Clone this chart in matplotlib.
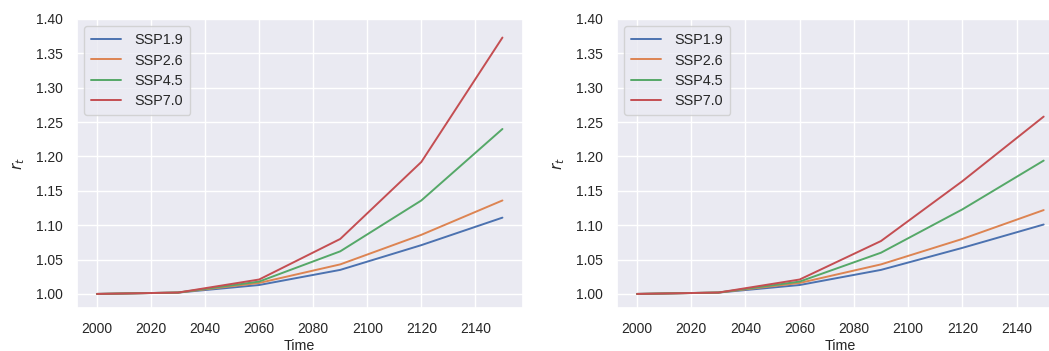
import matplotlib
matplotlib.use("Agg")
import matplotlib.pyplot as plt
import seaborn as sns

# Projected r_t under each SSP scenario, two model variants
years = [2000, 2030, 2060, 2090, 2120, 2150]
scenarios = ["SSP1.9", "SSP2.6", "SSP4.5", "SSP7.0"]

left_ssp19 = [1.000, 1.002, 1.013, 1.035, 1.071, 1.111]
left_ssp26 = [1.000, 1.002, 1.016, 1.043, 1.086, 1.136]
left_ssp45 = [1.000, 1.002, 1.018, 1.062, 1.136, 1.240]
left_ssp70 = [1.000, 1.002, 1.021, 1.080, 1.192, 1.373]

right_ssp19 = [1.000, 1.002, 1.013, 1.035, 1.067, 1.101]
right_ssp26 = [1.000, 1.002, 1.016, 1.043, 1.080, 1.122]
right_ssp45 = [1.000, 1.002, 1.018, 1.060, 1.123, 1.194]
right_ssp70 = [1.000, 1.002, 1.021, 1.077, 1.164, 1.258]

sns.set_theme(style="darkgrid")
plt.rcParams["font.family"] = ["Liberation Sans", "DejaVu Sans"]
plt.rcParams["mathtext.fontset"] = "dejavusans"

fig = plt.figure(figsize=(10.49, 3.51), dpi=100)
ax1 = fig.add_axes([0.0731, 0.1234, 0.4252, 0.8225])
ax2 = fig.add_axes([0.5879, 0.1234, 0.4264, 0.8225])

panels = [
    (ax1, [left_ssp19, left_ssp26, left_ssp45, left_ssp70]),
    (ax2, [right_ssp19, right_ssp26, right_ssp45, right_ssp70]),
]
colors = sns.color_palette("deep")

fs = 10.0
for ax, series in panels:
    for name, vals, c in zip(scenarios, series, colors):
        ax.plot(years, vals, label=name, color=c, lw=1.4)
    ax.set_ylim(0.98, 1.40)
    ax.set_yticks([1.00, 1.05, 1.10, 1.15, 1.20, 1.25, 1.30, 1.35, 1.40])
    ax.set_xticks([2000, 2020, 2040, 2060, 2080, 2100, 2120, 2140])
    ax.yaxis.set_major_formatter(matplotlib.ticker.FormatStrFormatter("%.2f"))
    ax.tick_params(labelsize=fs, colors="#262626", pad=4)
    ax.set_xlabel("Time", fontsize=fs + 0.3, color="#262626", labelpad=2.5)
    ax.set_ylabel("$r_t$", fontsize=fs + 1, color="#262626", labelpad=6)
    ax.legend(loc="upper left", fontsize=fs + 0.4, handlelength=2.1,
              handletextpad=0.9, borderpad=0.5, labelspacing=0.42)

fig.savefig("out.png", dpi=100)
